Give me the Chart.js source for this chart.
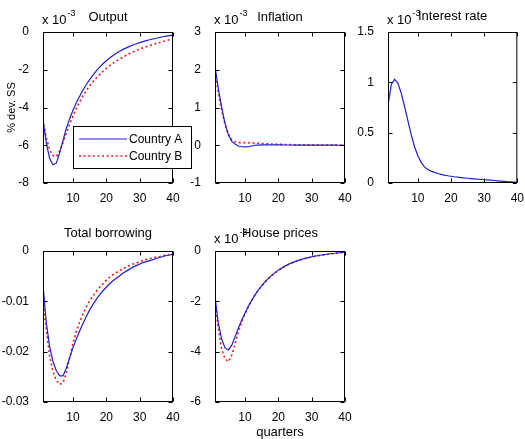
<!DOCTYPE html>
<html>
<head>
<meta charset="utf-8">
<script src="https://cdn.jsdelivr.net/npm/chart.js@4.4.1/dist/chart.umd.min.js"></script>
<style>
  html, body { margin: 0; padding: 0; background: #fff; overflow: hidden; }
  #fig { position: relative; width: 525px; height: 439px; }
  #fig canvas { position: absolute; }
</style>
</head>
<body>
<div id="fig"></div>
<script>
/* Impulse responses, 40 quarters, two countries. */
const QUARTERS = [1,2,3,4,5,6,7,8,9,10,11,12,13,14,15,16,17,18,19,20,
  21,22,23,24,25,26,27,28,29,30,31,32,33,34,35,36,37,38,39,40];
const X_TICKS = [10, 20, 30, 40];

// output, x 10^-3
const OUTPUT_A = [-4.65,-5.9,-6.7,-7.03,-6.95,-6.4,-5.75,-5.1,-4.6,-4.15,
  -3.75,-3.4,-3.07,-2.78,-2.52,-2.28,-2.06,-1.86,-1.68,-1.52,
  -1.38,-1.25,-1.13,-1.02,-0.92,-0.84,-0.76,-0.69,-0.62,-0.56,
  -0.51,-0.46,-0.41,-0.37,-0.33,-0.29,-0.25,-0.22,-0.19,-0.16];
const OUTPUT_B = [-4.65,-5.6,-6.25,-6.55,-6.6,-6.3,-5.85,-5.35,-4.9,-4.45,
  -4.05,-3.7,-3.38,-3.1,-2.85,-2.63,-2.43,-2.25,-2.08,-1.93,
  -1.79,-1.66,-1.54,-1.43,-1.33,-1.23,-1.14,-1.06,-0.98,-0.91,
  -0.84,-0.78,-0.72,-0.66,-0.61,-0.56,-0.51,-0.46,-0.41,-0.36];
const OUTPUT_TICKS = [0, -2, -4, -6, -8];

// inflation, x 10^-3
const INFL_A = [2.09,1.5,1.0,0.58,0.28,0.11,0.03,-0.02,-0.04,-0.045,
  -0.04,-0.02,0.0,0.005,0.01,0.01,0.01,0.01,0.01,0.009,
  0.008,0.007,0.006,0.006,0.005,0.004,0.004,0.003,0.003,0.003,
  0.002,0.002,0.002,0.001,0.001,0.001,0.001,0.0,0.0,-0.005];
const INFL_B = [1.95,1.4,0.92,0.55,0.3,0.15,0.09,0.07,0.07,0.07,
  0.065,0.06,0.055,0.05,0.045,0.04,0.036,0.033,0.03,0.027,
  0.024,0.021,0.019,0.017,0.015,0.013,0.012,0.011,0.01,0.009,
  0.008,0.007,0.006,0.005,0.004,0.004,0.003,0.003,0.002,0.002];
const INFL_TICKS = [3, 2, 1, 0, -1];

// interest rate, x 10^-3 (only country A visible)
const RATE_A = [0.77,0.98,1.03,0.99,0.89,0.76,0.62,0.48,0.36,0.27,
  0.205,0.16,0.135,0.118,0.105,0.094,0.085,0.078,0.072,0.067,
  0.062,0.058,0.054,0.05,0.047,0.044,0.041,0.038,0.036,0.033,
  0.031,0.028,0.025,0.022,0.019,0.016,0.013,0.011,0.009,0.007];
const RATE_TICKS = [1.5, 1, 0.5, 0];

// total borrowing
const BORROW_A = [-0.0067,-0.0143,-0.019,-0.022,-0.0238,-0.0248,-0.0248,-0.0233,-0.0212,-0.0192,
  -0.0175,-0.0159,-0.0144,-0.013,-0.0117,-0.0106,-0.0096,-0.0087,-0.0079,-0.0072,
  -0.0065,-0.0059,-0.0054,-0.0049,-0.0044,-0.004,-0.0036,-0.0032,-0.0029,-0.0026,
  -0.0023,-0.0021,-0.0019,-0.0017,-0.0015,-0.0013,-0.0011,-0.0009,-0.0008,-0.0006];
const BORROW_B = [-0.0097,-0.0157,-0.021,-0.024,-0.0257,-0.0265,-0.0262,-0.0242,-0.0212,-0.0183,
  -0.016,-0.0141,-0.0125,-0.0111,-0.0099,-0.0089,-0.008,-0.0072,-0.0065,-0.0058,
  -0.0052,-0.0047,-0.0043,-0.0039,-0.0035,-0.0032,-0.0029,-0.0026,-0.0024,-0.0021,
  -0.0019,-0.0017,-0.0015,-0.0014,-0.0012,-0.0011,-0.0009,-0.0008,-0.0007,-0.0006];
const BORROW_TICKS = [0, -0.01, -0.02, -0.03];

// house prices, x 10^-3
const HOUSE_A = [-1.8,-2.87,-3.5,-3.85,-3.93,-3.75,-3.42,-3.07,-2.75,-2.47,
  -2.2,-1.96,-1.74,-1.55,-1.38,-1.23,-1.09,-0.97,-0.86,-0.76,
  -0.68,-0.6,-0.53,-0.47,-0.42,-0.37,-0.33,-0.29,-0.26,-0.23,
  -0.2,-0.18,-0.16,-0.14,-0.12,-0.1,-0.09,-0.07,-0.06,-0.05];
const HOUSE_B = [-2.0,-3.1,-3.9,-4.27,-4.4,-4.15,-3.7,-3.22,-2.82,-2.5,
  -2.22,-1.97,-1.75,-1.56,-1.39,-1.24,-1.1,-0.98,-0.87,-0.77,
  -0.69,-0.61,-0.54,-0.48,-0.43,-0.38,-0.34,-0.3,-0.27,-0.24,
  -0.21,-0.19,-0.17,-0.15,-0.13,-0.11,-0.1,-0.08,-0.07,-0.06];
const HOUSE_TICKS = [0, -2, -4, -6];

const COR_A = "#1f1fd0";
const COR_B = "#e81c1c";
const FONTE = "'Liberation Sans', Arial, sans-serif";

Chart.defaults.font.family = FONTE;
Chart.defaults.font.size = 12;
Chart.defaults.color = "#000";

function pares(vals) {
  return vals.map((v, i) => ({ x: QUARTERS[i], y: v }));
}

function serieA(vals) {
  return { label: "Country A", data: pares(vals), borderColor: COR_A, borderWidth: 1.2,
    pointRadius: 0, fill: false, tension: 0 };
}
function serieB(vals) {
  return { label: "Country B", data: pares(vals), borderColor: COR_B, borderWidth: 1.6,
    borderDash: [2, 2.6], pointRadius: 0, fill: false, tension: 0 };
}

// moldura MATLAB: caixa completa, ticks para dentro, titulos e legenda
const moldura = {
  id: "moldura",
  afterDraw(chart, args, o) {
    const { ctx, chartArea: a, scales: { x, y } } = chart;
    ctx.save();
    ctx.strokeStyle = "#000";
    ctx.lineWidth = 1;
    const L = a.left + 0.5, R = a.right - 0.5, T = a.top + 0.5, B = a.bottom - 0.5;
    ctx.strokeRect(L, T, R - L, B - T);
    ctx.beginPath();
    x.ticks.forEach(t => {
      const px = Math.round(x.getPixelForValue(t.value)) + 0.5;
      ctx.moveTo(px, B); ctx.lineTo(px, B - 4);
      ctx.moveTo(px, T); ctx.lineTo(px, T + 4);
    });
    y.ticks.forEach(t => {
      const py = Math.round(y.getPixelForValue(t.value)) + 0.5;
      ctx.moveTo(L, py); ctx.lineTo(L + 4, py);
      ctx.moveTo(R, py); ctx.lineTo(R - 4, py);
    });
    ctx.stroke();

    ctx.fillStyle = "#000";
    ctx.textBaseline = "alphabetic";
    if (o.titulo) {
      ctx.font = "13px " + FONTE;
      ctx.textAlign = "center";
      ctx.fillText(o.titulo, (a.left + a.right) / 2, a.top - o.gapTitulo);
    }
    if (o.expoente) {
      ctx.textAlign = "left";
      ctx.font = "13px " + FONTE;
      const base = "x 10";
      ctx.fillText(base, a.left - 1, a.top - 8);
      const w = ctx.measureText(base).width;
      ctx.font = "9px " + FONTE;
      ctx.fillText(o.expoente, a.left - 1 + w + 1, a.top - 16);
    }
    if (o.ylabel) {
      ctx.font = "11px " + FONTE;
      ctx.textAlign = "center";
      ctx.translate(15, (a.top + a.bottom) / 2);
      ctx.rotate(-Math.PI / 2);
      ctx.fillText(o.ylabel, 0, 0);
      ctx.setTransform(1, 0, 0, 1, 0, 0);
    }
    if (o.xlabel) {
      ctx.font = "13px " + FONTE;
      ctx.textAlign = "center";
      ctx.fillText(o.xlabel, (a.left + a.right) / 2, a.bottom + 34);
    }
    if (o.legenda) {
      const g = o.legenda;
      ctx.fillStyle = "#fff";
      ctx.fillRect(g.x, g.y, g.w, g.h);
      ctx.strokeRect(g.x + 0.5, g.y + 0.5, g.w, g.h);
      ctx.font = "12px " + FONTE;
      ctx.textAlign = "left";
      ctx.textBaseline = "middle";
      chart.data.datasets.forEach((ds, i) => {
        const ly = g.y + 13 + i * 17;
        ctx.strokeStyle = ds.borderColor;
        ctx.lineWidth = ds.borderWidth;
        ctx.setLineDash(ds.borderDash || []);
        ctx.beginPath();
        ctx.moveTo(g.x + 6, ly); ctx.lineTo(g.x + 54, ly);
        ctx.stroke();
        ctx.setLineDash([]);
        ctx.fillStyle = "#000";
        ctx.fillText(ds.label, g.x + 56, ly + 0.5);
      });
    }
    ctx.restore();
  },
};

function montarPainel(p) {
  const c = document.createElement("canvas");
  const W = 43 + 130 + p.padR;
  const H = p.padT + 151 + 22 + (p.padB || 0);
  c.width = W; c.height = H;
  c.style.left = p.left + "px";
  c.style.top = p.top + "px";
  document.getElementById("fig").appendChild(c);
  return new Chart(c, {
    type: "line",
    data: { datasets: p.series },
    options: {
      animation: false,
      responsive: false,
      devicePixelRatio: 1,
      layout: { padding: { top: p.padT, right: p.padR, bottom: p.padB || 0, left: 0 } },
      plugins: {
        legend: { display: false },
        tooltip: { enabled: false },
        moldura: p.extra,
      },
      scales: {
        x: {
          type: "linear", min: 1, max: 40,
          afterBuildTicks: s => { s.ticks = X_TICKS.map(v => ({ value: v })); },
          afterFit: s => { s.height = 22; },
          grid: { display: false },
          border: { display: false },
          ticks: { padding: 0, autoSkip: false, maxRotation: 0, callback: v => String(v) },
        },
        y: {
          type: "linear", min: p.yMin, max: p.yMax,
          afterBuildTicks: s => { s.ticks = p.yTicks.map(v => ({ value: v })); },
          afterFit: s => { s.width = 43; },
          grid: { display: false },
          border: { display: false },
          ticks: { padding: 6, autoSkip: false, callback: v => String(v) },
        },
      },
    },
    plugins: [moldura],
  });
}

montarPainel({
  left: 0, top: 0, padT: 32, padR: 22,
  series: [serieA(OUTPUT_A), serieB(OUTPUT_B)],
  yMin: -8, yMax: 0, yTicks: OUTPUT_TICKS,
  extra: { titulo: "Output", gapTitulo: 11, expoente: "-3", ylabel: "% dev. SS",
    legenda: { x: 73, y: 126, w: 118, h: 42 } },
});
montarPainel({
  left: 172, top: 0, padT: 32, padR: 8,
  series: [serieA(INFL_A), serieB(INFL_B)],
  yMin: -1, yMax: 3, yTicks: INFL_TICKS,
  extra: { titulo: "Inflation", gapTitulo: 11, expoente: "-3" },
});
montarPainel({
  left: 345, top: 0, padT: 32, padR: 6,
  series: [serieA(RATE_A)],
  yMin: 0, yMax: 1.5, yTicks: RATE_TICKS,
  extra: { titulo: "Interest rate", gapTitulo: 12, expoente: "-3" },
});
montarPainel({
  left: 0, top: 219, padT: 32, padR: 8,
  series: [serieA(BORROW_A), serieB(BORROW_B)],
  yMin: -0.03, yMax: 0, yTicks: BORROW_TICKS,
  extra: { titulo: "Total borrowing", gapTitulo: 14 },
});
montarPainel({
  left: 172, top: 219, padT: 32, padR: 8, padB: 20,
  series: [serieA(HOUSE_A), serieB(HOUSE_B)],
  yMin: -6, yMax: 0, yTicks: HOUSE_TICKS,
  extra: { titulo: "House prices", gapTitulo: 14, expoente: "-3", xlabel: "quarters" },
});
</script>
</body>
</html>
